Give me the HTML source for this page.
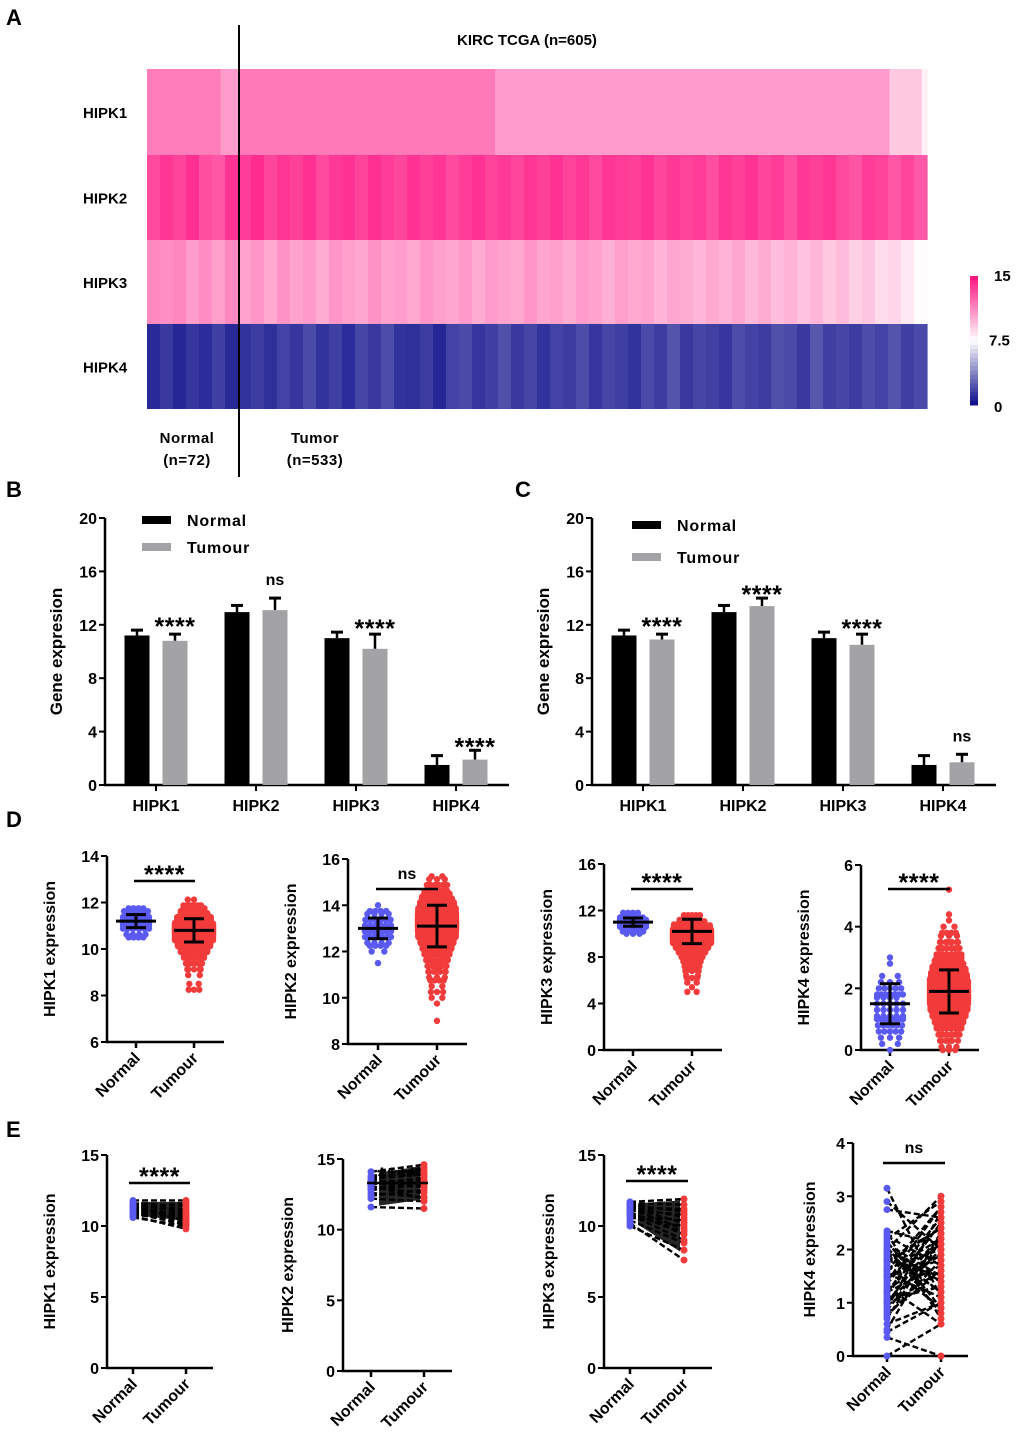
<!DOCTYPE html>
<html><head><meta charset="utf-8"><style>
body{margin:0;background:#fff}
svg{display:block;font-family:"Liberation Sans",Arial,sans-serif;font-weight:bold}
</style></head><body>
<svg id="fig" width="1020" height="1441" viewBox="0 0 1020 1441" xmlns="http://www.w3.org/2000/svg">
<g id="gA"></g>
<g id="gB"></g>
<g id="gC"></g>
<g id="gD"></g>
<g id="gE"></g>
<text x="6" y="25" font-size="22">A</text>
<text x="6" y="497" font-size="22">B</text>
<text x="515" y="497" font-size="22">C</text>
<text x="6" y="827" font-size="22">D</text>
<text x="6" y="1137" font-size="22">E</text>
</svg>
<script>
// ---------- DATA ----------
const heatGenes = ["HIPK1","HIPK2","HIPK3","HIPK4"];
const heatTotal = 605;
const heatNormalN = 72;
const heatHIPK1 = [[0,57,11.6],[57,72,10.6],[72,270,11.7],[270,576,10.6],[576,601,9.2],[601,605,8]];
const heatHIPK2 = [13.2,13.8,13.4,14.0,13.1,12.8,13.9,13.6,14.1,13.3,13.8,13.5,14.0,13.2,13.7,13.9,13.4,14.0,13.6,13.3,13.9,13.5,13.8,13.2,13.6,13.9,13.4,13.7,13.3,13.8,13.5,13.9,13.4,13.7,13.2,13.8,13.6,13.5,13.9,13.3,13.7,13.4,13.6,13.1,13.8,13.5,13.9,13.3,13.6,13.0,13.7,13.5,13.8,13.2,12.9,13.6,13.4,12.8,13.3,12.7];
const heatHIPK3 = [11.2,11.0,11.3,10.6,11.1,10.5,11.2,10.4,10.8,10.2,10.9,10.4,10.7,10.1,10.8,10.5,10.3,10.9,10.4,10.6,10.2,10.8,10.5,10.3,10.7,10.1,10.6,10.4,10.2,10.8,10.3,10.5,10.1,10.6,10.4,10.0,10.5,10.2,10.4,9.9,10.3,10.1,9.8,10.2,9.9,10.3,9.7,10.1,9.6,9.9,9.4,9.8,9.2,9.6,9.0,9.3,8.6,8.8,8.2,7.6];
const heatHIPK4 = [0.9,1.4,0.8,1.3,1.0,1.6,0.9,1.2,1.5,1.1,1.7,1.3,1.9,1.2,1.6,1.0,1.8,1.4,2.0,1.2,1.1,1.5,0.8,1.7,1.9,1.3,1.6,2.1,1.4,1.8,1.2,1.7,1.5,2.0,1.3,1.8,1.6,1.2,1.9,1.5,2.2,1.4,1.8,1.6,1.3,2.0,1.7,1.5,2.1,1.9,1.4,2.3,1.6,1.8,1.5,2.0,1.7,2.2,1.6,1.9];
const heatScaleTicks = ["15","7.5","0"];

const barCats = ["HIPK1","HIPK2","HIPK3","HIPK4"];
const bNormal = [11.2,12.95,11.0,1.5];
const bNormalErr = [0.4,0.5,0.45,0.7];
const bTumour = [10.8,13.1,10.2,1.9];
const bTumourErr = [0.5,0.9,1.1,0.7];
const bSig = ["****","ns","****","****"];
const cNormal = [11.2,12.95,11.0,1.5];
const cNormalErr = [0.4,0.5,0.45,0.7];
const cTumour = [10.9,13.4,10.5,1.7];
const cTumourErr = [0.4,0.6,0.8,0.6];
const cSig = ["****","****","****","ns"];
const barTicks = [0,4,8,12,16,20];

const d1NormalBins = [10.5,0.25,[4,8,18,24,14,4]];
const d1TumourBins = [8.25,0.25,[3,2,0,4,6,10,18,35,55,85,100,90,60,35,20,5]];
const d2NormalBins = [11.5,0.25,[1,0,2,4,8,14,18,12,8,4,1]];
const d2TumourBins = [9.0,0.25,[1,0,0,1,2,3,2,4,6,8,10,14,20,28,38,50,60,65,60,50,40,30,20,12,6,2]];
const d3NormalBins = [10.0,0.4,[3,10,25,25,9]];
const d3TumourBins = [5.0,0.4,[2,1,2,3,4,6,8,12,20,35,55,80,100,95,70,30,10]];
const d4NormalBins = [0,0.2,[1,2,3,5,6,8,10,10,9,7,5,3,2,0,1,1]];
const d4TumourBins = [0,0.2,[3,5,8,12,18,25,35,45,55,60,58,50,42,35,25,18,12,8,6,4,2,1,1,0,0,0,1]];
const dMeans = [[11.2,10.8],[13.0,13.1],[11.0,10.2],[1.5,1.9]];
const dSDs = [[0.28,0.5],[0.45,0.9],[0.35,1.05],[0.65,0.7]];
const dSig = ["****","ns","****","****"];
const dTicks = [[6,8,10,12,14],[8,10,12,14,16],[0,4,8,12,16],[0,2,4,6]];

const e1Normal = [11.8,11.6,11.5,11.4,11.3,11.2,11.1,11.0,10.9,10.8,10.7,10.6,11.3,11.0,11.5,10.9];
const e1Tumour = [11.8,11.4,11.0,11.2,10.8,10.6,10.9,10.5,10.2,10.4,9.8,10.0,11.6,10.7,10.3,10.1];
const e2Normal = [14.1,13.8,13.6,13.4,13.3,13.2,13.0,12.8,12.6,12.4,12.2,11.6,13.5,13.1,12.9,13.7];
const e2Tumour = [14.6,14.2,13.9,13.5,13.0,13.7,12.6,13.2,12.3,12.8,12.0,11.5,14.4,12.2,13.4,14.0];
const e3Normal = [11.7,11.6,11.5,11.4,11.3,11.2,11.1,11.0,10.8,10.6,10.4,10.2,10.0,11.3,10.9,10.7];
const e3Tumour = [11.9,11.5,11.0,10.6,10.2,9.8,10.8,9.4,9.0,10.0,8.8,7.6,8.3,11.2,9.6,10.4];
const e4Normal = [3.15,2.9,2.75,2.3,2.2,2.1,2.0,1.9,1.8,1.7,1.6,1.5,1.4,1.3,1.2,1.1,1.0,0.9,0.8,0.7,0.6,0.5,0.35,0.0,1.85,1.45,2.05,1.25,2.25,1.75,1.55,1.15,0.95,2.15,1.65,1.35,1.05,0.75,1.95,2.35,1.5,1.8,1.0,0.45,2.0,1.6,1.2,0.85];
const e4Tumour = [1.1,2.0,2.6,0.7,2.9,1.5,3.0,1.2,2.4,0.9,2.2,1.8,2.8,0.6,2.5,1.3,2.0,2.7,1.6,2.3,1.0,2.2,0.0,0.6,1.4,2.1,0.8,1.9,1.7,2.4,1.1,2.5,1.6,0.9,2.0,2.6,1.3,1.8,1.2,2.1,1.9,1.5,2.3,1.0,1.4,2.8,1.7,2.2];
const eTicks = [[0,5,10,15],[0,5,10,15],[0,5,10,15],[0,1,2,3,4]];
const eSig = ["****","****","****","ns"];

// ---------- HELPERS ----------
const NS="http://www.w3.org/2000/svg";
function mk(parent, tag, attrs, txt){const e=document.createElementNS(NS,tag);for(const k in attrs)e.setAttribute(k,attrs[k]);if(txt!==undefined)e.textContent=txt;parent.appendChild(e);return e;}
function mix(a,b,t){return a.map((v,i)=>Math.round(v+(b[i]-v)*t));}
function heatColor(v){const pink=[255,16,128],white=[255,255,255],navy=[12,12,138];let c;if(v>=7.5)c=mix(white,pink,Math.min(1,(v-7.5)/7.5));else c=mix(navy,white,Math.max(0,v/7.5));return "rgb("+c.join(",")+")";}

// ---------- PANEL A ----------
(function(){
const g=document.getElementById("gA");
const x0=147,x1=927,rowY=[69,155,240,324,409];
const sx=s=>x0+(x1-x0)*s/heatTotal;
const rows=[heatHIPK1,heatHIPK2,heatHIPK3,heatHIPK4];
rows.forEach((row,ri)=>{
  let segs=row;
  if(typeof row[0]==="number"){const n=row.length;segs=row.map((v,i)=>[heatTotal*i/n,heatTotal*(i+1)/n,v]);}
  segs.forEach((s,si)=>{
    const r=mk(g,"rect",{x:sx(s[0]),y:rowY[ri],width:sx(s[1])-sx(s[0])+0.6,height:rowY[ri+1]-rowY[ri],fill:heatColor(s[2])});
    
    
  });
  const t=mk(g,"text",{x:83,y:(rowY[ri]+rowY[ri+1])/2+6,"font-size":15},heatGenes[ri]);
  
  
});
const ln=mk(g,"line",{x1:239,x2:239,y1:25,y2:477,stroke:"#000","stroke-width":2});


const title=mk(g,"text",{x:527,y:45,"font-size":15,"text-anchor":"middle"},"KIRC TCGA (n=605)");


[["Normal",187,443],["(n=72)",187,465],["Tumor",315,443],["(n=533)",315,465]].forEach(a=>{
  const t=mk(g,"text",{x:a[1],y:a[2],"font-size":15,"text-anchor":"middle","letter-spacing":"0.5"},a[0]);
  
  
});
const cy0=276,cy1=405;
for(let i=0;i<30;i++){
  const v=15-15*i/30;
  const r=mk(g,"rect",{x:970,y:cy0+(cy1-cy0)*i/30,width:8,height:(cy1-cy0)/30+0.5,fill:heatColor(v-0.25)});
  
  
}
heatScaleTicks.forEach((s,i)=>{
  const v=parseFloat(s);
  const t=mk(g,"text",{x:s==="7.5"?989:994,y:cy1-(cy1-cy0)*v/15+(i===0?5:i===2?7:5),"font-size":15},s);
  
  
});
})();

// ---------- BAR PANELS ----------
function barPanel(g,ax,cats,nv,ne,tv,te,sig,ylabel,leg){
  const y0=785,y1=518,xEnd=ax+404;
  const ys=v=>y0-(y0-y1)*v/20;
  const catX=i=>ax+51+100*i;
  const a=mk(g,"path",{d:`M${ax},${y1} V${y0} H${xEnd}`,stroke:"#000","stroke-width":2.5,fill:"none"});
  
  
  barTicks.forEach(v=>{
    const tk=mk(g,"line",{x1:ax-6,x2:ax,y1:ys(v),y2:ys(v),stroke:"#000","stroke-width":2});
    
    
    const t=mk(g,"text",{x:ax-8,y:ys(v)+6,"font-size":16,"text-anchor":"end"},v);
    
    
  });
  cats.forEach((c,i)=>{
    const tk=mk(g,"line",{x1:catX(i),x2:catX(i),y1:y0,y2:y0+6,stroke:"#000","stroke-width":2});
    
    
    const t=mk(g,"text",{x:catX(i),y:y0+26,"font-size":16,"text-anchor":"middle"},c);
    
    
    [[nv[i],ne[i],-19,"#000"],[tv[i],te[i],19,"#a3a3a6"]].forEach((b,k)=>{
      const cx=catX(i)+b[2];
      const el=mk(g,"line",{x1:cx,x2:cx,y1:ys(b[0]),y2:ys(b[0]+b[1]),stroke:"#000","stroke-width":2.5});
      
      
      const cap=mk(g,"line",{x1:cx-6,x2:cx+6,y1:ys(b[0]+b[1]),y2:ys(b[0]+b[1]),stroke:"#000","stroke-width":3});
      
      
      const r=mk(g,"rect",{x:cx-12.5,y:ys(b[0]),width:25,height:ys(0)-ys(b[0]),fill:b[3]});
      
      
    });
    const top=Math.max(nv[i]+ne[i],tv[i]+te[i]);
    const isNs=sig[i]==="ns";
    const s=mk(g,"text",{x:catX(i)+19,y:isNs?ys(top)-13:ys(top)+5,"font-size":isNs?16:25,"text-anchor":"middle","letter-spacing":isNs?0:0.5},sig[i]);
    
    
  });
  const yl=mk(g,"text",{transform:`translate(${ax-43},${(y0+y1)/2}) rotate(-90)`,"font-size":17,"text-anchor":"middle"},ylabel);
  
  
  const l1=mk(g,"rect",{x:leg[0],y:leg[1]-4,width:29,height:8,fill:"#000"});
  
  
  const t1=mk(g,"text",{x:leg[0]+45,y:leg[1]+6,"font-size":16,"letter-spacing":"0.8"},"Normal");
  
  
  const l2=mk(g,"rect",{x:leg[0],y:leg[2]-4,width:29,height:8,fill:"#a3a3a6"});
  
  
  const t2=mk(g,"text",{x:leg[0]+45,y:leg[2]+6,"font-size":16,"letter-spacing":"0.8"},"Tumour");
  
  
}
barPanel(document.getElementById("gB"),105,barCats,bNormal,bNormalErr,bTumour,bTumourErr,bSig,"Gene expresion",[142,520,547]);
barPanel(document.getElementById("gC"),592,barCats,cNormal,cNormalErr,cTumour,cTumourErr,cSig,"Gene expresion",[632,525,557]);

// ---------- SMALL AXIS HELPER ----------
function smallAxes(g,ax,yTop,yBot,xEnd,ticks,xN,xT,ylabel,titleOff){
  const min=ticks[0],max=ticks[ticks.length-1];
  const ys=v=>yBot-(yBot-yTop)*(v-min)/(max-min);
  const a=mk(g,"path",{d:`M${ax},${yTop} V${yBot} H${xEnd}`,stroke:"#000","stroke-width":2.5,fill:"none"});
  
  
  ticks.forEach(v=>{
    const tk=mk(g,"line",{x1:ax-6,x2:ax,y1:ys(v),y2:ys(v),stroke:"#000","stroke-width":2});
    
    
    const t=mk(g,"text",{x:ax-8,y:ys(v)+6,"font-size":16,"text-anchor":"end"},v);
    
    
  });
  [[xN,"Normal"],[xT,"Tumour"]].forEach(p=>{
    const tk=mk(g,"line",{x1:p[0],x2:p[0],y1:yBot,y2:yBot+6,stroke:"#000","stroke-width":2.5});
    
    
    const t=mk(g,"text",{transform:`translate(${p[0]+5},${yBot+17}) rotate(-45)`,"font-size":16,"text-anchor":"end"},p[1]);
    
    
  });
  const yl=mk(g,"text",{transform:`translate(${ax-titleOff},${(yTop+yBot)/2}) rotate(-90)`,"font-size":16,"text-anchor":"middle"},ylabel);
  
  
  return ys;
}
function sigBar(g,x1,x2,y,label){
  const l=mk(g,"line",{x1:x1,x2:x2,y1:y,y2:y,stroke:"#000","stroke-width":2.5});
  
  
  const ns=label==="ns";
  const t=mk(g,"text",{x:(x1+x2)/2,y:ns?y-10:y+2,"font-size":ns?16:25,"text-anchor":"middle","letter-spacing":ns?0:0.5},label);
  
  
}

// ---------- PANEL D ----------
(function(){
const g=document.getElementById("gD");
const cfg=[
 {ax:107,top:856,bot:1042,end:224,xn:136,xt:194,bins:[d1NormalBins,d1TumourBins],sigY:881,lab:"HIPK1 expression"},
 {ax:348,top:859,bot:1044,end:467,xn:378,xt:437,bins:[d2NormalBins,d2TumourBins],sigY:889,lab:"HIPK2 expression"},
 {ax:604,top:864,bot:1050,end:722,xn:633,xt:692,bins:[d3NormalBins,d3TumourBins],sigY:889,lab:"HIPK3 expression"},
 {ax:861,top:865,bot:1050,end:979,xn:890,xt:949,bins:[d4NormalBins,d4TumourBins],sigY:889,lab:"HIPK4 expression"}];
cfg.forEach((c,pi)=>{
  const ys=smallAxes(g,c.ax,c.top,c.bot,c.end,dTicks[pi],c.xn,c.xt,c.lab,52);
  [[c.xn,"#5a5af2",c.bins[0]],[c.xt,"#f23b3b",c.bins[1]]].forEach((grp,gi)=>{
    const [start,step,counts]=grp[2];
    const maxC=Math.max(...counts);
    const maxHalf=gi?19:13;
    counts.forEach((n,bi)=>{
      if(!n)return;
      const v=start+step*bi;
      const half=Math.min(maxHalf,Math.sqrt(n/maxC)*maxHalf+(n>1?2:0));
      const rowsN=Math.max(1,Math.ceil(n/Math.max(1,half/1.5)));
      const perRow=Math.ceil(n/rowsN);
      for(let k=0;k<n;k++){
        const row=Math.floor(k/perRow),col=k%perRow;
        const off=perRow>1?-half+2*half*col/(perRow-1):0;
        const dv=rowsN>1?step*(row/(rowsN-1)-0.5):0;
        const pt=mk(g,"circle",{cx:grp[0]+off,cy:ys(v+dv),r:3.2,fill:grp[1]});
        
        
      }
    });
    const m=dMeans[pi][gi],sd=dSDs[pi][gi],x=grp[0];
    const mean=mk(g,"line",{x1:x-20,x2:x+20,y1:ys(m),y2:ys(m),stroke:"#000","stroke-width":3});
    
    
    const v=mk(g,"line",{x1:x,x2:x,y1:ys(m-sd),y2:ys(m+sd),stroke:"#000","stroke-width":3});
    
    
    [m-sd,m+sd].forEach(cv=>{
      const cp=mk(g,"line",{x1:x-10,x2:x+10,y1:ys(cv),y2:ys(cv),stroke:"#000","stroke-width":3});
      
      
    });
  });
  sigBar(g,c.xn-2,c.xt+1,c.sigY,dSig[pi]);
});
})();

// ---------- PANEL E ----------
(function(){
const g=document.getElementById("gE");
const cfg=[
 {ax:107,top:1155,bot:1368,end:213,xn:133,xt:186,n:e1Normal,t:e1Tumour,sigY:1183,lab:"HIPK1 expression",sx:[129,190],off:52},
 {ax:343,top:1159,bot:1371,end:452,xn:371,xt:424,n:e2Normal,t:e2Tumour,sigY:1183,lab:"HIPK2 expression",sx:[367,428],off:50},
 {ax:604,top:1155,bot:1368,end:712,xn:630,xt:684,n:e3Normal,t:e3Tumour,sigY:1181,lab:"HIPK3 expression",sx:[626,688],off:50},
 {ax:853,top:1143,bot:1356,end:968,xn:887,xt:941,n:e4Normal,t:e4Tumour,sigY:1163,lab:"HIPK4 expression",sx:[883,945],off:38}];
cfg.forEach((c,pi)=>{
  const ys=smallAxes(g,c.ax,c.top,c.bot,c.end,eTicks[pi],c.xn,c.xt,c.lab,c.off);
  if(pi<3){
    const nMin=Math.min(...c.n),nMax=Math.max(...c.n),tMin=Math.min(...c.t),tMax=Math.max(...c.t);
    const poly=mk(g,"polygon",{points:`${c.xn+8},${ys(nMax-0.1)} ${c.xt-4},${ys(tMax-0.1)} ${c.xt-4},${ys(tMin+0.6)} ${c.xn+8},${ys(nMin+0.1)}`,fill:"#000",opacity:0.85});
    
    
  }
  c.n.forEach((v,i)=>{
    const l=mk(g,"line",{x1:c.xn,x2:c.xt,y1:ys(v),y2:ys(c.t[i]),stroke:"#000","stroke-width":2.4,"stroke-dasharray":"6,3"});
    
    
  });
  c.n.forEach((v,i)=>{
    const a=mk(g,"circle",{cx:c.xn,cy:ys(v),r:3.5,fill:"#5a5af2"});
    
    
    const b=mk(g,"circle",{cx:c.xt,cy:ys(c.t[i]),r:3.5,fill:"#f23b3b"});
    
    
  });
  sigBar(g,c.sx[0],c.sx[1],c.sigY,eSig[pi]);
});
})();
</script>
</body></html>
